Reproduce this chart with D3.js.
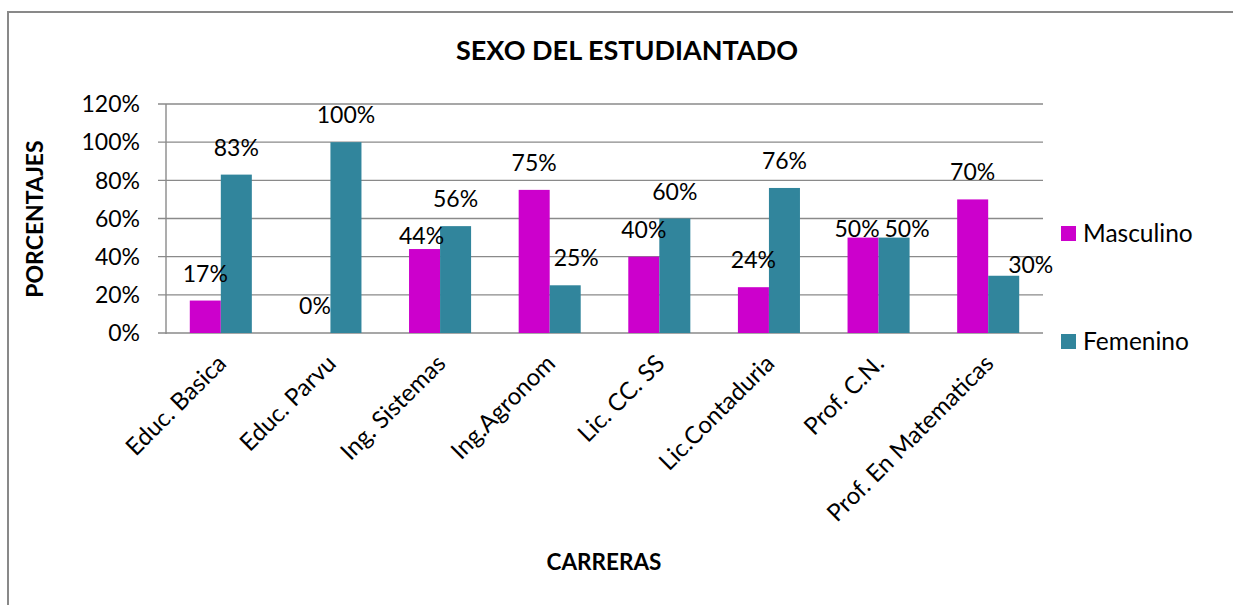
<!DOCTYPE html>
<html>
<head>
<meta charset="utf-8">
<script src="https://cdn.jsdelivr.net/npm/d3@7"></script>
<style>
  html, body { margin: 0; padding: 0; background: #fff; }
  svg { display: block; font-family: Lato, "Liberation Sans", sans-serif; }
</style>
</head>
<body>
<svg id="chart" width="1233" height="605"></svg>
<script>
const title = "SEXO DEL ESTUDIANTADO";
const yTitle = "PORCENTAJES";
const xTitle = "CARRERAS";
const categories = ["Educ. Basica", "Educ. Parvu", "Ing. Sistemas", "Ing.Agronom", "Lic. CC. SS", "Lic.Contaduria", "Prof. C.N.", "Prof. En Matematicas"];
const seriesNames = ["Masculino", "Femenino"];
const masculino = [0.17, 0.00, 0.44, 0.75, 0.40, 0.24, 0.50, 0.70];
const femenino  = [0.83, 1.00, 0.56, 0.25, 0.60, 0.76, 0.50, 0.30];
const yTicks = [0, 0.2, 0.4, 0.6, 0.8, 1.0, 1.2];
const colors = ["#CC00CC", "#31859C"];

// manual nudges of some data labels (as in the original chart), [dx, dy] per series
const labelNudgeMasc = [[0,0],[0,0],[-3,14],[0,0],[0,0],[0,0],[-6,18],[0,0]];
const labelNudgeFem  = [[0,0],[0,0],[0,0],[11,0],[0,0],[0,0],[13,18],[27,16]];

const series = [masculino, femenino];
const nudges = [labelNudgeMasc, labelNudgeFem];
const svg = d3.select("#chart");

// outer border
svg.append("rect").attr("x", 8).attr("y", 12).attr("width", 1240).attr("height", 620)
  .attr("fill", "none").attr("stroke", "#898989").attr("stroke-width", 2);

const pLeft = 166, pRight = 1043, pTop = 104, pBottom = 333;
const x0 = d3.scaleBand().domain(categories).range([pLeft, pRight]).paddingInner(0.434).paddingOuter(0.217);
const x1 = d3.scaleBand().domain(seriesNames).range([0, x0.bandwidth()]);
const y = d3.scaleLinear().domain([0, 1.2]).range([pBottom, pTop]);

// gridlines
svg.append("g").selectAll("line").data(yTicks).join("line")
  .attr("x1", pLeft - 8).attr("x2", pRight)
  .attr("y1", d => y(d)).attr("y2", d => y(d))
  .attr("stroke", "#8a8a8a").attr("stroke-width", 1.4);

// y axis line
svg.append("line").attr("x1", pLeft).attr("x2", pLeft).attr("y1", pTop).attr("y2", pBottom + 1)
  .attr("stroke", "#8a8a8a").attr("stroke-width", 1.4);

// y tick labels
svg.append("g").selectAll("text").data(yTicks).join("text")
  .attr("x", pLeft - 26).attr("y", d => y(d)).attr("dy", "0.36em")
  .attr("text-anchor", "end").attr("font-size", 23).attr("fill", "#000")
  .text(d => d3.format(".0%")(d));

// bars
const groups = svg.append("g").selectAll("g").data(categories).join("g")
  .attr("transform", d => `translate(${x0(d)},0)`);
const cellData = (d, i) => seriesNames.map((s, j) => ({s, v: series[j][i], j, n: nudges[j][i]}));
groups.selectAll("rect").data(cellData)
  .join("rect")
  .attr("x", d => x1(d.s)).attr("width", x1.bandwidth())
  .attr("y", d => y(d.v)).attr("height", d => y(0) - y(d.v))
  .attr("fill", d => colors[d.j]);
groups.selectAll("text").data(cellData)
  .join("text")
  .attr("x", d => x1(d.s) + x1.bandwidth() / 2 + d.n[0]).attr("y", d => y(d.v) - 19 + d.n[1])
  .attr("text-anchor", "middle").attr("font-size", 23).attr("fill", "#000")
  .text(d => d3.format(".0%")(d.v));

// x labels
svg.append("g").selectAll("text").data(categories).join("text")
  .attr("transform", d => `translate(${x0(d) + x0.bandwidth() / 2 + 1},${pBottom + 26}) rotate(-45)`)
  .attr("text-anchor", "end").attr("dy", "0.35em").attr("font-size", 24).attr("fill", "#000")
  .text(d => d);

// titles
svg.append("text").attr("x", 627).attr("y", 60).attr("text-anchor", "middle")
  .attr("font-size", 27).attr("font-weight", "bold").text(title);
svg.append("text").attr("x", 604).attr("y", 570).attr("text-anchor", "middle")
  .attr("font-size", 22.5).attr("font-weight", "bold").text(xTitle);
svg.append("text").attr("transform", "translate(43,219) rotate(-90)").attr("text-anchor", "middle")
  .attr("font-size", 23).attr("font-weight", "bold").text(yTitle);

// legend
const leg = svg.append("g").selectAll("g").data(seriesNames).join("g")
  .attr("transform", (d, i) => `translate(1061,${226 + i * 108})`);
leg.append("rect").attr("width", 15).attr("height", 15).attr("fill", (d, i) => colors[i]);
leg.append("text").attr("x", 22).attr("y", 7.5).attr("dy", "0.36em")
  .attr("font-size", 24.5).text(d => d);
</script>
</body>
</html>
